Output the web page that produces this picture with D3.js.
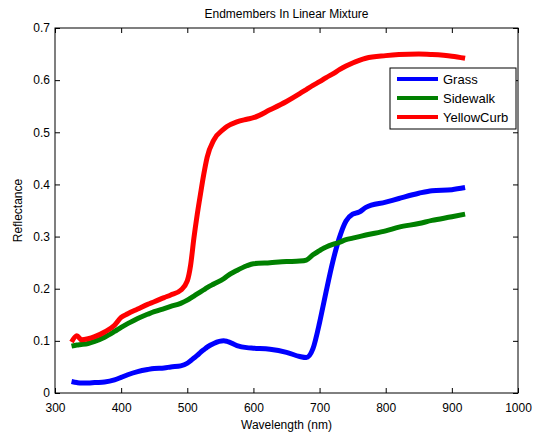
<!DOCTYPE html>
<html>
<head>
<meta charset="utf-8">
<script src="https://cdn.jsdelivr.net/npm/d3@7"></script>
<style>
  body { margin: 0; background: #fff; }
  text { font-family: "Liberation Sans", Arial, sans-serif; fill: #000; }
</style>
</head>
<body>
<div id="chart"></div>
<script>
// wavelength samples (nm)
var wavelength = [325, 333, 340, 350, 360, 375, 390, 400, 410, 425, 440, 450, 465, 475, 490, 500,
  505, 510, 515, 520, 525, 530, 540, 555, 560, 575, 590, 600, 625, 650, 670, 680, 690, 700,
  705, 710, 720, 730, 740, 750, 760, 770, 800, 820, 850, 870, 900, 920];

var grass = [0.022, 0.020, 0.019, 0.019, 0.020, 0.021, 0.025, 0.030, 0.035, 0.041, 0.045, 0.047, 0.048, 0.050, 0.052, 0.057,
  0.062, 0.067, 0.072, 0.078, 0.083, 0.088, 0.095, 0.100, 0.099, 0.091, 0.087, 0.086, 0.084, 0.078, 0.070, 0.068, 0.085, 0.135,
  0.165, 0.195, 0.252, 0.298, 0.330, 0.343, 0.347, 0.356, 0.366, 0.373, 0.383, 0.388, 0.390, 0.394];

var sidewalk = [0.090, 0.092, 0.093, 0.095, 0.099, 0.107, 0.118, 0.126, 0.133, 0.143, 0.151, 0.156, 0.162, 0.166, 0.172, 0.178,
  0.182, 0.186, 0.190, 0.194, 0.198, 0.202, 0.209, 0.219, 0.224, 0.235, 0.244, 0.248, 0.250, 0.252, 0.253, 0.255, 0.265, 0.273,
  0.277, 0.280, 0.285, 0.289, 0.294, 0.297, 0.300, 0.303, 0.311, 0.318, 0.325, 0.331, 0.338, 0.343];

var yellowCurb = [0.098, 0.110, 0.102, 0.104, 0.108, 0.117, 0.130, 0.145, 0.152, 0.161, 0.170, 0.175, 0.183, 0.188, 0.197, 0.215,
  0.245, 0.297, 0.342, 0.382, 0.420, 0.452, 0.485, 0.506, 0.511, 0.520, 0.525, 0.528, 0.543, 0.559, 0.574, 0.582, 0.590, 0.597,
  0.601, 0.605, 0.612, 0.620, 0.627, 0.633, 0.638, 0.642, 0.647, 0.649, 0.650, 0.649, 0.646, 0.642];

var seriesNames = ["Grass", "Sidewalk", "YellowCurb"];
var seriesColors = ["#0000ff", "#008000", "#ff0000"];
var xTicks = [300, 400, 500, 600, 700, 800, 900, 1000];
var yTicks = [0, 0.1, 0.2, 0.3, 0.4, 0.5, 0.6, 0.7];

var margin = {top: 28, right: 22, bottom: 40, left: 55},
    width = 540 - margin.left - margin.right,
    height = 433 - margin.top - margin.bottom;

var svg = d3.select("#chart")
  .append("svg")
    .attr("width", 540)
    .attr("height", 433)
  .append("g")
    .attr("transform", "translate(" + margin.left + "," + margin.top + ")");

var x = d3.scaleLinear().domain([300, 1000]).range([0, width]);
var y = d3.scaleLinear().domain([0, 0.7]).range([height, 0]);

// axes with inward ticks on all four sides
svg.append("g")
    .attr("transform", "translate(0," + height + ")")
    .call(d3.axisBottom(x).tickValues(xTicks).tickSizeInner(-5).tickSizeOuter(0).tickPadding(10).tickFormat(d3.format("d")))
    .call(function(g){ g.select(".domain").remove() });
svg.append("g")
    .call(d3.axisTop(x).tickValues(xTicks).tickSizeInner(-5).tickSizeOuter(0).tickFormat(""))
    .call(function(g){ g.select(".domain").remove() });
svg.append("g")
    .call(d3.axisLeft(y).tickValues(yTicks).tickSizeInner(-5).tickSizeOuter(0).tickPadding(5).tickFormat(function(d){ return d === 0 ? "0" : d3.format(".1f")(d) }))
    .call(function(g){ g.select(".domain").remove() });
svg.append("g")
    .attr("transform", "translate(" + width + ",0)")
    .call(d3.axisRight(y).tickValues(yTicks).tickSizeInner(-5).tickSizeOuter(0).tickFormat(""))
    .call(function(g){ g.select(".domain").remove() });

svg.selectAll(".tick text")
    .attr("font-size", "12px")
    .attr("font-family", "Liberation Sans, Arial, sans-serif");

svg.append("rect")
    .attr("x", 0).attr("y", 0)
    .attr("width", width).attr("height", height)
    .attr("fill", "none")
    .attr("stroke", "#000")
    .attr("stroke-width", 1);

// curves
var series = [grass, sidewalk, yellowCurb];
var line = d3.line()
    .x(function(d, i){ return x(wavelength[i]) })
    .y(function(d){ return y(d) })
    .curve(d3.curveMonotoneX);

svg.selectAll(".curve")
  .data(series)
  .enter()
  .append("path")
    .attr("class", "curve")
    .attr("d", line)
    .attr("fill", "none")
    .attr("stroke", function(d, i){ return seriesColors[i] })
    .attr("stroke-width", 5)
    .attr("stroke-linejoin", "round");

// title and axis labels
svg.append("text")
    .attr("x", width / 2)
    .attr("y", -10)
    .attr("text-anchor", "middle")
    .attr("font-size", "12px")
    .text("Endmembers In Linear Mixture");

svg.append("text")
    .attr("x", width / 2)
    .attr("y", height + 36)
    .attr("text-anchor", "middle")
    .attr("font-size", "12px")
    .text("Wavelength (nm)");

svg.append("text")
    .attr("transform", "translate(-33," + (height / 2) + ") rotate(-90)")
    .attr("text-anchor", "middle")
    .attr("font-size", "12px")
    .text("Reflectance");

// legend
var legend = svg.append("g")
    .attr("transform", "translate(" + (390 - margin.left) + "," + (68 - margin.top) + ")");

legend.append("rect")
    .attr("width", 126).attr("height", 61)
    .attr("fill", "#fff")
    .attr("stroke", "#000")
    .attr("stroke-width", 1);

var rows = legend.selectAll(".row")
  .data(seriesNames)
  .enter()
  .append("g")
    .attr("transform", function(d, i){ return "translate(0," + (11 + i * 19) + ")" });

rows.append("line")
    .attr("x1", 7).attr("x2", 48)
    .attr("stroke", function(d, i){ return seriesColors[i] })
    .attr("stroke-width", 4);

rows.append("text")
    .attr("x", 53)
    .attr("y", 4.5)
    .attr("font-size", "13px")
    .text(function(d){ return d });
</script>
</body>
</html>
